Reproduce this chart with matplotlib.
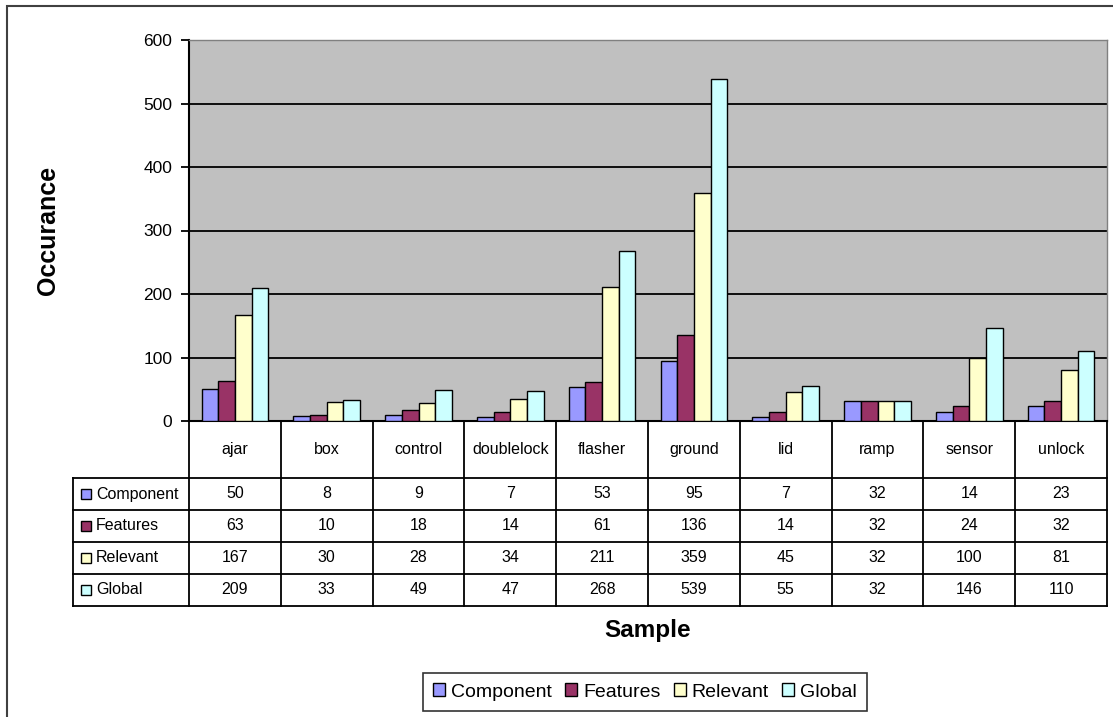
import numpy as np
import matplotlib.pyplot as plt
from matplotlib.patches import Patch, Rectangle

plt.rcParams["font.family"] = ["Liberation Sans", "DejaVu Sans"]

# ------------------------------------------------------------
# Data
# ------------------------------------------------------------
categories = ["ajar", "box", "control", "doublelock", "flasher",
              "ground", "lid", "ramp", "sensor", "unlock"]
series_names = ["Component", "Features", "Relevant", "Global"]
component = [50, 8, 9, 7, 53, 95, 7, 32, 14, 23]
features = [63, 10, 18, 14, 61, 136, 14, 32, 24, 32]
relevant = [167, 30, 28, 34, 211, 359, 45, 32, 100, 81]
global_vals = [209, 33, 49, 47, 268, 539, 55, 32, 146, 110]
y_ticks = [0, 100, 200, 300, 400, 500, 600]

colors = ["#9999FF", "#993366", "#FFFFCC", "#CCFFFF"]

W, H = 1113, 717


def fx(x):
    return x / W


def fy(y):
    return 1 - y / H


def main() -> None:
    fig = plt.figure(figsize=(W / 100, H / 100), dpi=100)
    fig.patch.set_facecolor("white")

    # outer chart border (runs off the right / bottom edge)
    fig.patches.append(Rectangle((fx(7), fy(730)), fx(1120), fy(6) - fy(730),
                                 transform=fig.transFigure, fill=False,
                                 edgecolor="#404040", linewidth=1.5))

    left, right, top, zero = 189, 1107, 40, 421
    ax = fig.add_axes([fx(left), fy(zero), fx(right - left), fy(top) - fy(zero)])
    ax.set_facecolor("#C0C0C0")

    data = [component, features, relevant, global_vals]
    n = len(categories)
    bw = 1 / 5.5
    idx = np.arange(n)
    for j, (vals, col) in enumerate(zip(data, colors)):
        ax.bar(idx + 0.5 + (j - 1.5) * bw, vals, width=bw, color=col,
               edgecolor="black", linewidth=1.0, zorder=3)

    ax.set_xlim(0, n)
    ax.set_ylim(0, 600)
    ax.set_yticks(y_ticks)
    ax.set_yticklabels([str(t) for t in y_ticks], fontsize=12.5)
    ax.set_xticks([])
    ax.tick_params(axis="y", length=6, width=1.3, pad=6, direction="out")
    ax.grid(axis="y", color="black", linewidth=1.3, zorder=1)
    for s in ["top", "right"]:
        ax.spines[s].set_color("#808080")
        ax.spines[s].set_linewidth(1.0)
    ax.spines["left"].set_linewidth(1.5)
    ax.spines["bottom"].set_linewidth(1.5)

    # ------------------------------------------------------------
    # Data table below the plot
    # ------------------------------------------------------------
    tbl_bottom = 606
    tax = fig.add_axes([fx(left), fy(tbl_bottom), fx(right - left),
                        fy(zero) - fy(tbl_bottom)])
    header_h = 57 / 32
    total_h = header_h + 4
    tax.set_xlim(0, n)
    tax.set_ylim(total_h, 0)
    tax.axis("off")

    label_left = (73 - left) / ((right - left) / n)
    lc = dict(color="black", linewidth=1.3, clip_on=False)

    for i in range(n + 1):
        tax.plot([i, i], [0, total_h], **lc)
    for r in range(5):
        yy = header_h + r
        tax.plot([label_left, n], [yy, yy], **lc)
    tax.plot([label_left, label_left], [header_h, total_h], **lc)

    for i, cat in enumerate(categories):
        tax.text(i + 0.5, header_h / 2, cat, ha="center", va="center",
                 fontsize=11.5)

    for r, (name, vals, col) in enumerate(zip(series_names, data, colors)):
        yc = header_h + r + 0.5
        tax.plot([label_left + 0.14], [yc], marker="s", markersize=7,
                 markerfacecolor=col, markeredgecolor="black",
                 markeredgewidth=1.0, clip_on=False)
        tax.text(label_left + 0.25, yc, name, ha="left", va="center",
                 fontsize=11.5)
        for i, v in enumerate(vals):
            tax.text(i + 0.5, yc, str(v), ha="center", va="center",
                     fontsize=11.5)

    # axis titles
    fig.text(fx(48), fy((top + zero) / 2), "Occurance", rotation=90,
             ha="center", va="center", fontsize=18, fontweight="bold")
    fig.text(fx(648), fy(631), "Sample", ha="center", va="center",
             fontsize=17.5, fontweight="bold")

    # legend
    handles = [Patch(facecolor=c, edgecolor="black", linewidth=1.0)
               for c in colors]
    leg = fig.legend(handles, series_names, loc="center",
                     bbox_to_anchor=(fx(645), fy(692)), ncol=4,
                     fontsize=14, frameon=True, fancybox=False,
                     handlelength=0.6, handleheight=0.6, handletextpad=0.3,
                     columnspacing=0.7, borderpad=0.55)
    leg.get_frame().set_edgecolor("black")
    leg.get_frame().set_linewidth(1.2)

    fig.savefig("out.png", dpi=100)
    plt.close(fig)


if __name__ == "__main__":
    main()
